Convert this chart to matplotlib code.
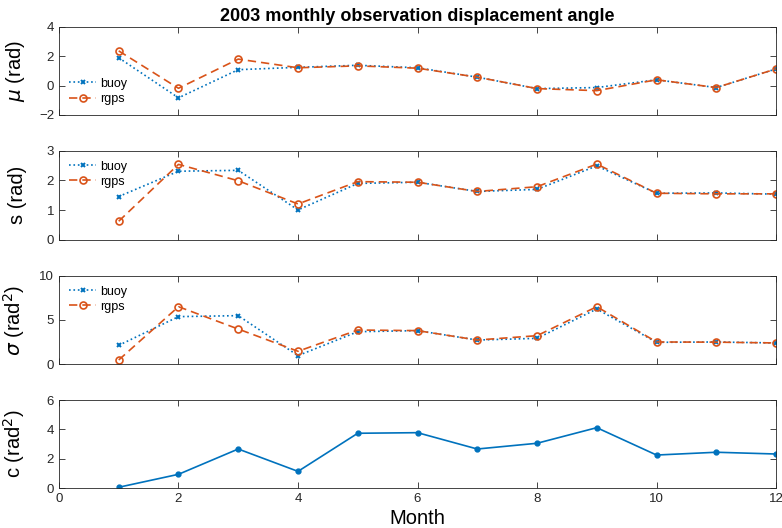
import numpy as np
import matplotlib.pyplot as plt

plt.rcParams['font.family'] = ['Liberation Sans', 'DejaVu Sans']
plt.rcParams['mathtext.fontset'] = 'dejavusans'

months = np.arange(1, 13)

mu_buoy = [1.90, -0.83, 1.09, 1.25, 1.39, 1.22, 0.58, -0.20, -0.13, 0.40, -0.13, 1.14]
mu_rgps = [2.37, -0.18, 1.81, 1.22, 1.35, 1.19, 0.58, -0.20, -0.34, 0.40, -0.13, 1.14]

s_buoy = [1.46, 2.31, 2.34, 1.01, 1.90, 1.94, 1.63, 1.70, 2.49, 1.57, 1.58, 1.54]
s_rgps = [0.63, 2.54, 1.99, 1.21, 1.96, 1.94, 1.63, 1.79, 2.55, 1.57, 1.55, 1.55]

sig_buoy = [2.14, 5.38, 5.49, 0.98, 3.68, 3.80, 2.74, 2.93, 6.24, 2.48, 2.52, 2.41]
sig_rgps = [0.49, 6.50, 3.98, 1.47, 3.87, 3.80, 2.74, 3.23, 6.50, 2.52, 2.50, 2.41]

c_vals = [0.07, 0.95, 2.67, 1.15, 3.74, 3.78, 2.67, 3.06, 4.12, 2.26, 2.45, 2.33]

blue = '#0072BD'
orange = '#D95319'
axcol = '#262626'

fig = plt.figure(figsize=(7.82, 5.28), dpi=100)
left, width = 0.0754, 0.917
boxes = [(0.7822, 0.1667), (0.5455, 0.1691), (0.31, 0.1679), (0.0752, 0.1672)]
axes = [fig.add_axes([left, b, width, h]) for b, h in boxes]


def style(ax, ylim, yticks, show_x):
    ax.set_xlim(0, 12)
    ax.set_ylim(*ylim)
    ax.set_xticks(range(0, 13, 2))
    ax.set_yticks(yticks)
    ax.tick_params(direction='in', top=True, right=True, length=4,
                   width=0.6, colors=axcol, labelsize=9.5, labelcolor=axcol)
    if not show_x:
        ax.tick_params(labelbottom=False)
    for sp in ax.spines.values():
        sp.set_color(axcol)
        sp.set_linewidth(0.6)


def pair(ax, b, r, loc):
    ax.plot(months, b, ':', color=blue, marker='x', ms=3.5, mew=1.4, lw=1.2, label='buoy')
    ax.plot(months, r, '--', color=orange, marker='o', ms=5, mfc='none', mew=1.2,
            lw=1.2, dashes=(5, 3), label='rgps')
    ax.legend(loc=loc, frameon=False, fontsize=9, handlelength=2.2,
              handletextpad=0.3, labelspacing=0.25, borderaxespad=0.3,
              borderpad=0.5)


pair(axes[0], mu_buoy, mu_rgps, 'lower left')
style(axes[0], (-2, 4), [-2, 0, 2, 4], False)
axes[0].set_ylabel(r'$\mu$ (rad)', fontsize=14.5)

pair(axes[1], s_buoy, s_rgps, 'upper left')
style(axes[1], (0, 3), [0, 1, 2, 3], False)
axes[1].set_ylabel('s (rad)', fontsize=14.5)

pair(axes[2], sig_buoy, sig_rgps, 'upper left')
style(axes[2], (0, 10), [0, 5, 10], False)
axes[2].set_ylabel(r'$\sigma$ (rad$^2$)', fontsize=14.5)

axes[3].plot(months, c_vals, '-', color=blue, marker='o', ms=3.5, lw=1.2)
style(axes[3], (0, 6), [0, 2, 4, 6], True)
axes[3].set_ylabel(r'c (rad$^2$)', fontsize=14.5)
axes[3].set_xlabel('Month', fontsize=14.5, labelpad=3)

for ax in axes:
    ax.yaxis.set_label_coords(-0.045, 0.5)

axes[0].set_title('2003 monthly observation displacement angle',
                  fontsize=13, fontweight='bold', pad=4)

fig.savefig('out.png', dpi=100)
